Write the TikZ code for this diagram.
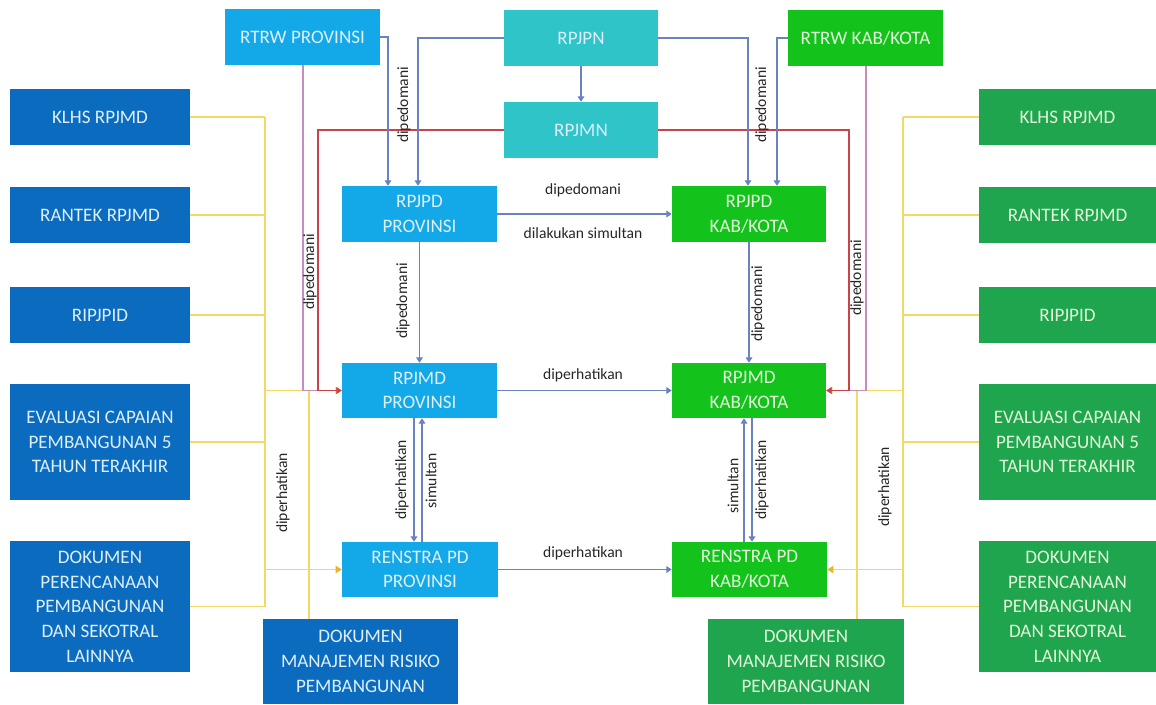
\documentclass[tikz,border=0pt]{standalone}
\usepackage{fontspec}
\setmainfont{Carlito}
\usetikzlibrary{arrows.meta}
\definecolor{dblue}{HTML}{0B6CBF}
\definecolor{lblue}{HTML}{13A9E9}
\definecolor{tealbox}{HTML}{2EC4C8}
\definecolor{bgreen}{HTML}{14C21C}
\definecolor{dgreen}{HTML}{1EA54D}
\definecolor{txtblue}{HTML}{DDEFFC}
\definecolor{txtgreen}{HTML}{E2F7DA}
\definecolor{lineblue}{HTML}{6A82C2}
\definecolor{linered}{HTML}{C9434B}
\definecolor{linepink}{HTML}{C98DBB}
\definecolor{lineyel}{HTML}{F2D865}
\definecolor{tipyel}{HTML}{E8B525}
\definecolor{labtxt}{HTML}{262626}
\newcommand\mkbox[7]{\node[#2, minimum width={(#5-#3)*0.75pt}, minimum height={(#6-#4)*0.75pt}] (#1) at ({(#3+#5)/2},{(#4+#6)/2}) {#7};}
\tikzset{
  box/.style={rectangle, inner sep=0pt, align=center, font=\fontsize{14.3}{18.5}\selectfont},
  bdark/.style={box, fill=dblue, text=txtblue},
  blight/.style={box, fill=lblue, text=txtblue},
  bteal/.style={box, fill=tealbox, text=txtblue},
  bbright/.style={box, fill=bgreen, text=txtgreen},
  bgr/.style={box, fill=dgreen, text=txtgreen},
  arr/.style={-{Triangle[width=5pt,length=4pt]}},
  bl/.style={draw=lineblue, line width=0.8pt},
  rd/.style={draw=linered, line width=0.9pt},
  pk/.style={draw=linepink, line width=0.9pt},
  yl/.style={draw=lineyel, line width=0.9pt},
  yarr/.style={-{Triangle[width=5.5pt,length=4.5pt,color=tipyel]}},
  lab/.style={font=\fontsize{11.7}{14}\selectfont, text=labtxt, inner sep=0pt},
  vlab/.style={lab, rotate=90}
}
\begin{document}
\begin{tikzpicture}[x=0.75pt, y=-0.75pt]
\useasboundingbox (0,0) rectangle (1156,704);
% boxes
\mkbox{rtrwp}{blight}{225}{9}{380}{65}{RTRW PROVINSI}
\mkbox{rpjpn}{bteal}{504}{10}{658}{66}{RPJPN}
\mkbox{rpjmn}{bteal}{504}{102}{658}{158}{RPJMN}
\mkbox{rtrwk}{bbright}{788}{10}{943}{66}{RTRW KAB/KOTA}
\mkbox{rpjpdp}{blight}{342}{186}{497}{242}{RPJPD\\PROVINSI}
\mkbox{rpjpdk}{bbright}{672}{186}{826}{242}{RPJPD\\KAB/KOTA}
\mkbox{rpjmdp}{blight}{342}{363}{497}{418}{RPJMD\\PROVINSI}
\mkbox{rpjmdk}{bbright}{672}{363}{826}{418}{RPJMD\\KAB/KOTA}
\mkbox{renp}{blight}{342}{542}{498}{597}{RENSTRA PD\\PROVINSI}
\mkbox{renk}{bbright}{672}{542}{827}{597}{RENSTRA PD\\KAB/KOTA}
\mkbox{dmrl}{bdark}{263}{619}{458}{704}{DOKUMEN\\MANAJEMEN RISIKO\\PEMBANGUNAN}
\mkbox{dmrr}{bgr}{708}{619}{904}{704}{DOKUMEN\\MANAJEMEN RISIKO\\PEMBANGUNAN}
\mkbox{klhsl}{bdark}{10}{89}{190}{145}{KLHS RPJMD}
\mkbox{rantekl}{bdark}{10}{187}{190}{243}{RANTEK RPJMD}
\mkbox{ripl}{bdark}{10}{287}{190}{343}{RIPJPID}
\mkbox{evall}{bdark}{10}{384}{190}{500}{EVALUASI CAPAIAN\\PEMBANGUNAN 5\\TAHUN TERAKHIR}
\mkbox{dokl}{bdark}{10}{541}{190}{672}{DOKUMEN\\PERENCANAAN\\PEMBANGUNAN\\DAN SEKOTRAL\\LAINNYA}
\mkbox{klhsr}{bgr}{979}{89}{1156}{145}{KLHS RPJMD}
\mkbox{rantekr}{bgr}{979}{187}{1156}{243}{RANTEK RPJMD}
\mkbox{ripr}{bgr}{979}{287}{1156}{343}{RIPJPID}
\mkbox{evalr}{bgr}{979}{384}{1156}{500}{EVALUASI CAPAIAN\\PEMBANGUNAN 5\\TAHUN TERAKHIR}
\mkbox{dokr}{bgr}{979}{541}{1156}{672}{DOKUMEN\\PERENCANAAN\\PEMBANGUNAN\\DAN SEKOTRAL\\LAINNYA}
% bend coordinates
\coordinate (xA) at (388,0);
\coordinate (xB) at (418,0);
\coordinate (xC) at (748,0);
\coordinate (xD) at (777,0);
\coordinate (xE) at (318,0);
\coordinate (xF) at (849,0);
\coordinate (xG) at (303,0);
\coordinate (xG2) at (866,0);
\coordinate (xH) at (265,0);
\coordinate (xI) at (309,0);
\coordinate (xJ) at (903,0);
\coordinate (xK) at (857,0);
\coordinate (dL) at (414,0);
\coordinate (uL) at (422,0);
\coordinate (uR) at (744,0);
\coordinate (dR) at (752,0);
% yellow
\foreach \n in {klhsl,rantekl,ripl,evall,dokl} \draw[yl] (\n.east) -- (xH |- \n.east);
\draw[yl] (xH |- klhsl.east) -- (xH |- dokl.east);
\draw[yl, yarr] (xH |- rpjmdp.west) -- (rpjmdp.west);
\draw[yl, yarr] (xH |- renp.west) -- (renp.west);
\draw[yl] (xI |- rpjmdp.west) -- (xI |- dmrl.north);
\foreach \n in {klhsr,rantekr,ripr,evalr,dokr} \draw[yl] (\n.west) -- (xJ |- \n.west);
\draw[yl] (xJ |- klhsr.west) -- (xJ |- dokr.west);
\draw[yl, yarr] (xJ |- rpjmdk.east) -- (rpjmdk.east);
\draw[yl, yarr] (xJ |- renk.east) -- (renk.east);
\draw[yl] (xK |- rpjmdk.east) -- (xK |- dmrr.north);
% pink
\draw[pk] (xG |- rtrwp.south) |- (rpjmdp.west);
\draw[pk] (xG2 |- rtrwk.south) |- (rpjmdk.east);
% red
\draw[rd, arr] (rpjmn.west) -| (xE |- rpjmdp.west) -- (rpjmdp.west);
\draw[rd, arr] (rpjmn.east) -| (xF |- rpjmdk.east) -- (rpjmdk.east);
% blue
\draw[bl, arr] (rtrwp.east) -| (xA |- rpjpdp.north);
\draw[bl, arr] (rpjpn.west) -| (xB |- rpjpdp.north);
\draw[bl, arr] (rpjpn.south) -- (rpjmn.north);
\draw[bl, arr] (rpjpn.east) -| (xC |- rpjpdk.north);
\draw[bl, arr] (rtrwk.west) -| (xD |- rpjpdk.north);
\draw[bl, arr] (rpjpdp.east) -- (rpjpdk.west);
\draw[bl, arr] (rpjpdp.south) -- (rpjmdp.north);
\draw[bl, arr] (rpjpdk.south) -- (rpjmdk.north);
\draw[bl, arr] (rpjmdp.east) -- (rpjmdk.west);
\draw[bl, arr] (renp.east) -- (renk.west);
\draw[bl, arr] (dL |- rpjmdp.south) -- (dL |- renp.north);
\draw[bl, arr] (uL |- renp.north) -- (uL |- rpjmdp.south);
\draw[bl, arr] (uR |- renk.north) -- (uR |- rpjmdk.south);
\draw[bl, arr] (dR |- rpjmdk.south) -- (dR |- renk.north);
% labels
\node[vlab] (t1) at (404,105) {dipedomani};
\node[vlab] (t2) at (762,105) {dipedomani};
\node[vlab] (t3) at (310,272) {dipedomani};
\node[vlab] (t4) at (857,278) {dipedomani};
\node[vlab] (t5) at (403,301) {dipedomani};
\node[vlab] (t6) at (758,304) {dipedomani};
\node[lab] (t7) at (583,190) {dipedomani};
\node[lab] (t8) at (583,233) {dilakukan simultan};
\node[lab] (t9) at (583,375) {diperhatikan};
\node[lab] (t10) at (583,553) {diperhatikan};
\node[vlab] (t11) at (402,480) {diperhatikan};
\node[vlab] (t12) at (431,481) {simultan};
\node[vlab] (t13) at (733,486) {simultan};
\node[vlab] (t14) at (762,480) {diperhatikan};
\node[vlab] (t15) at (283,493) {diperhatikan};
\node[vlab] (t16) at (885,487) {diperhatikan};
\end{tikzpicture}
\end{document}
